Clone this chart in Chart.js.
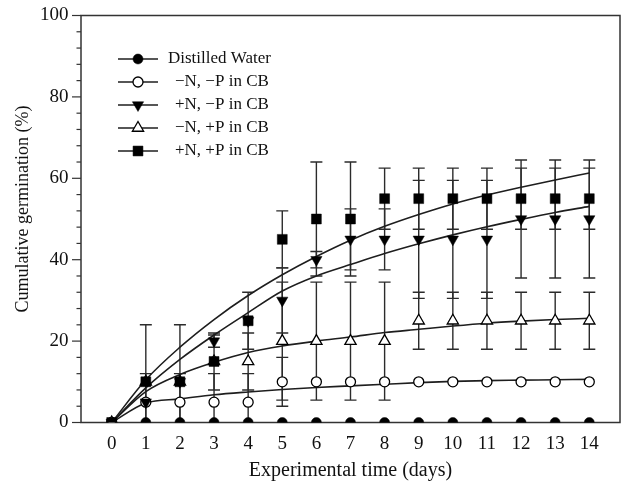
<!DOCTYPE html>
<html>
<head>
<meta charset="utf-8">
<script src="https://cdn.jsdelivr.net/npm/chart.js@4.4.1/dist/chart.umd.min.js"></script>
<style>
  html, body { margin: 0; padding: 0; background: #fff; }
  #wrap { width: 623px; height: 484px; }
</style>
</head>
<body>
<div id="wrap"><canvas id="germChart" width="623" height="484"></canvas></div>
<script>
// x categories (days) and y tick labels
const days = [0, 1, 2, 3, 4, 5, 6, 7, 8, 9, 10, 11, 12, 13, 14];
const yTickLabels = [0, 20, 40, 60, 80, 100];
const seriesLabels = ['Distilled Water', '\u2212N, \u2212P in CB', '+N, \u2212P in CB', '\u2212N, +P in CB', '+N, +P in CB'];
const yTitle = 'Cumulative germination (%)';
const xTitle = 'Experimental time (days)';

// measured germination (%)
const distilledWater = [0, 0, 0, 0, 0, 0, 0, 0, 0, 0, 0, 0, 0, 0, 0];
const minusNminusP   = [0, 5, 5, 5, 5, 10, 10, 10, 10, 10, 10, 10, 10, 10, 10];
const plusNminusP    = [0, 5, 10, 20, 25, 30, 40, 45, 45, 45, 45, 45, 50, 50, 50];
const minusNplusP    = [0, 10, 10, 15, 15, 20, 20, 20, 20, 25, 25, 25, 25, 25, 25];
const plusNplusP     = [0, 10, 10, 15, 25, 45, 50, 50, 55, 55, 55, 55, 55, 55, 55];

// error bar half-lengths
const errDistilled    = [0, 0, 0, 0, 0, 0, 0, 0, 0, 0, 0, 0, 0, 0, 0];
const errMinusNminusP = [0, 0, 7, 7, 7, 6, 0, 0, 0, 0, 0, 0, 0, 0, 0];
const errPlusNminusP  = [0, 7, 0, 1.5, 0, 8, 2, 7.5, 7.5, 14.5, 14.5, 14.5, 14.5, 14.5, 14.5];
const errMinusNplusP  = [0, 0, 0, 0, 7, 14.5, 14.5, 14.5, 14.5, 7, 7, 7, 7, 7, 7];
const errPlusNplusP   = [0, 14, 14, 7, 7, 7, 14, 14, 7.5, 7.5, 7.5, 7.5, 7.5, 7.5, 7.5];

// fitted curves at each day
const fitMinusNminusP = [0, 4.8, 5.8, 6.8, 7.5, 8.1, 8.6, 9.0, 9.4, 9.8, 10.1, 10.3, 10.4, 10.5, 10.6];
const fitPlusNminusP  = [0, 8.5, 15.5, 21.5, 27, 32.3, 36, 38.8, 41.5, 43.9, 46.1, 48.1, 49.9, 51.6, 53.1];
const fitMinusNplusP  = [0, 7.6, 11.8, 14.8, 17.2, 18.8, 20, 21, 22.1, 22.9, 23.7, 24.4, 24.9, 25.3, 25.6];
const fitPlusNplusP   = [0, 10.5, 18.5, 25.3, 31.2, 36.3, 40.8, 44.8, 48.2, 51.1, 53.7, 55.9, 57.8, 59.6, 61.3];

const FONT = '"Liberation Serif", "Times New Roman", serif';
Chart.defaults.font.family = FONT;
Chart.defaults.color = '#111';

const pts = arr => days.map((d, i) => ({ x: d, y: arr[i] }));

function markers(label, data, errors, style, filled, radius, rotation, order) {
    return {
        label,
        data: pts(data),
        errors,
        showLine: false,
        pointStyle: style,
        pointRadius: radius,
        pointHoverRadius: radius,
        pointRotation: rotation,
        pointBackgroundColor: filled ? '#000' : '#fff',
        pointBorderColor: '#000',
        pointBorderWidth: filled ? 0.5 : 1.3,
        order,
    };
}

function curve(data) {
    return {
        data: pts(data),
        borderColor: '#1e1e1e',
        borderWidth: 1.6,
        pointRadius: 0,
        pointHoverRadius: 0,
        cubicInterpolationMode: 'monotone',
        order: 10,
    };
}

// no extra room for the end labels, the plot box is placed by hand
const noScalePadding = scale => {
    scale.paddingTop = 0;
    scale.paddingBottom = 0;
    scale.paddingLeft = 0;
    scale.paddingRight = 0;
};

const frame = {
    id: 'frame',
    beforeDatasetsDraw(chart) {
        const { ctx, chartArea: a, scales: { y } } = chart;
        ctx.save();
        ctx.strokeStyle = '#333';
        ctx.lineWidth = 1.5;
        ctx.strokeRect(a.left, a.top, a.right - a.left, a.bottom - a.top);
        ctx.lineWidth = 1.2;
        y.ticks.forEach(t => {
            const py = y.getPixelForValue(t.value);
            const len = yTickLabels.includes(t.value) ? 9 : 4.5;
            ctx.beginPath();
            ctx.moveTo(a.left - len, py);
            ctx.lineTo(a.left, py);
            ctx.stroke();
        });
        // y axis title
        ctx.translate(23, 209);
        ctx.rotate(-Math.PI / 2);
        ctx.font = '18px ' + FONT;
        ctx.fillStyle = '#111';
        ctx.textAlign = 'center';
        ctx.textBaseline = 'middle';
        ctx.fillText(yTitle, 0, 0);
        ctx.restore();
    },
};

const errorBars = {
    id: 'errorBars',
    beforeDatasetsDraw(chart) {
        const { ctx, chartArea: a, scales: { x, y } } = chart;
        ctx.save();
        ctx.beginPath();
        ctx.rect(a.left, a.top, a.right - a.left, a.bottom - a.top);
        ctx.clip();
        ctx.strokeStyle = '#2b2b2b';
        ctx.lineWidth = 1.4;
        chart.data.datasets.forEach(ds => {
            if (!ds.errors) return;
            ds.data.forEach((p, i) => {
                const e = ds.errors[i];
                if (!e) return;
                const px = x.getPixelForValue(p.x);
                const top = y.getPixelForValue(p.y + e);
                const bot = y.getPixelForValue(p.y - e);
                ctx.beginPath();
                ctx.moveTo(px, top); ctx.lineTo(px, bot);
                ctx.moveTo(px - 6, top); ctx.lineTo(px + 6, top);
                ctx.moveTo(px - 6, bot); ctx.lineTo(px + 6, bot);
                ctx.stroke();
            });
        });
        ctx.restore();
    },
};

const legendBox = {
    id: 'legendBox',
    afterDraw(chart) {
        const ctx = chart.ctx;
        ctx.save();
        ctx.font = '17px ' + FONT;
        ctx.textBaseline = 'middle';
        chart.data.datasets.filter(ds => ds.errors).forEach((ds, i) => {
            const y = 59 + i * 23;
            ctx.strokeStyle = '#1e1e1e';
            ctx.lineWidth = 1.5;
            ctx.beginPath();
            ctx.moveTo(118, y);
            ctx.lineTo(158, y);
            ctx.stroke();
            ctx.fillStyle = ds.pointBackgroundColor;
            ctx.strokeStyle = ds.pointBorderColor;
            ctx.lineWidth = ds.pointBorderWidth;
            Chart.helpers.drawPoint(ctx, {
                pointStyle: ds.pointStyle,
                radius: ds.pointRadius,
                rotation: ds.pointRotation,
                borderWidth: ds.pointBorderWidth,
            }, 138, y);
            ctx.fillStyle = '#111';
            ctx.fillText(ds.label, i === 0 ? 168 : 175, y);
        });
        ctx.restore();
    },
};

new Chart(document.getElementById('germChart'), {
    type: 'line',
    data: {
        datasets: [
            markers(seriesLabels[0], distilledWater, errDistilled, 'circle', true, 5, 0, 5),
            markers(seriesLabels[1], minusNminusP, errMinusNminusP, 'circle', false, 5, 0, 4),
            markers(seriesLabels[2], plusNminusP, errPlusNminusP, 'triangle', true, 6.5, 180, 3),
            markers(seriesLabels[3], minusNplusP, errMinusNplusP, 'triangle', false, 6.5, 0, 2),
            markers(seriesLabels[4], plusNplusP, errPlusNplusP, 'rect', true, 7, 0, 1),
            curve(fitMinusNminusP),
            curve(fitPlusNminusP),
            curve(fitMinusNplusP),
            curve(fitPlusNplusP),
        ],
    },
    options: {
        responsive: false,
        animation: false,
        devicePixelRatio: 1,
        layout: { autoPadding: false, padding: { top: 15.5, right: 3, left: 0, bottom: 0 } },
        plugins: {
            legend: { display: false },
            tooltip: { enabled: false },
        },
        scales: {
            x: {
                type: 'linear',
                min: -0.9,
                max: 14.9,
                afterBuildTicks: scale => { scale.ticks = days.map(v => ({ value: v })); },
                afterFit: scale => { scale.height = 61.5; noScalePadding(scale); },
                grid: { display: false, drawTicks: false },
                border: { display: false },
                ticks: { autoSkip: false, maxRotation: 0, padding: 10, font: { size: 19 }, color: '#111' },
                title: {
                    display: true,
                    text: xTitle,
                    font: { size: 20 },
                    color: '#111',
                    padding: { top: 0, bottom: 1.5 },
                },
            },
            y: {
                min: 0,
                max: 100,
                afterFit: scale => { scale.width = 81; noScalePadding(scale); },
                grid: { display: false, drawTicks: false },
                border: { display: false },
                ticks: {
                    stepSize: 4,
                    autoSkip: false,
                    padding: 12.5,
                    font: { size: 19 },
                    color: '#111',
                    callback: v => (yTickLabels.includes(v) ? String(v) : ''),
                },
            },
        },
    },
    plugins: [frame, errorBars, legendBox],
});
</script>
</body>
</html>
